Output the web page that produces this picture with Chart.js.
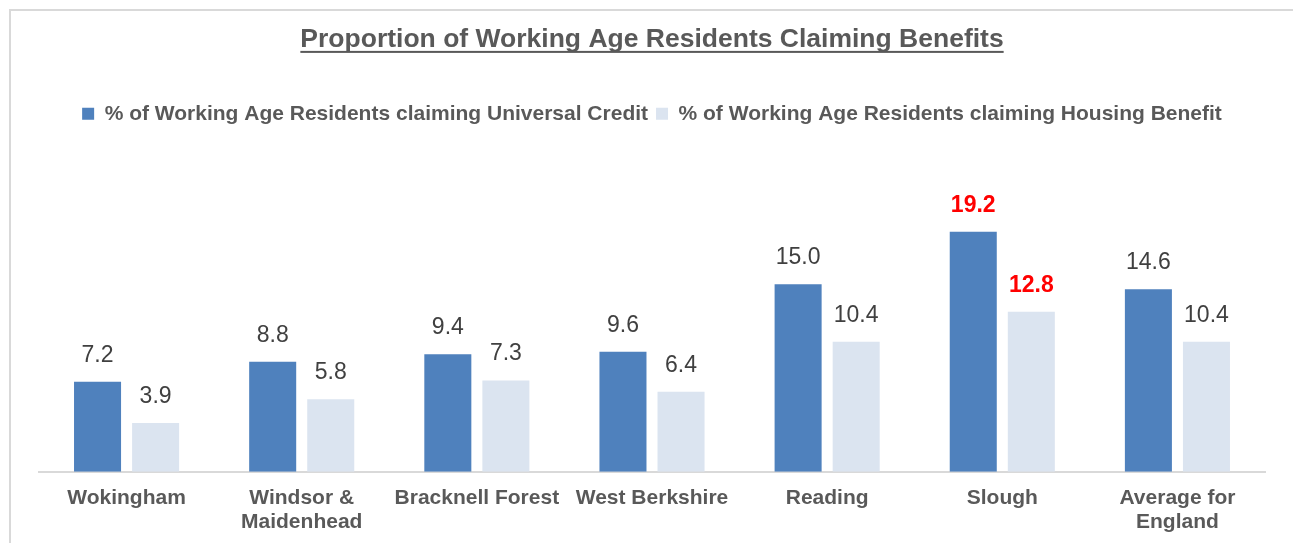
<!DOCTYPE html>
<html>
<head>
<meta charset="utf-8">
<script src="https://cdn.jsdelivr.net/npm/chart.js@4.4.1/dist/chart.umd.min.js"></script>
<style>
  body { margin: 0; background: #fff; overflow: hidden; }
  #wrap { position: relative; width: 1293px; height: 543px; overflow: hidden; }
  #frame { position: absolute; left: 9px; top: 9px; width: 1400px; height: 600px;
           border: 2px solid #d9d9d9; pointer-events: none; }
</style>
</head>
<body>
<div id="wrap">
  <!-- canvas runs a few px past the bottom edge, the frame is cut off there too -->
  <canvas id="chart" width="1293" height="548"></canvas>
  <div id="frame"></div>
</div>
<script>
var areas = [["Wokingham"], ["Windsor &", "Maidenhead"], ["Bracknell Forest"], ["West Berkshire"],
             ["Reading"], ["Slough"], ["Average for", "England"]];
var universalCredit = [7.2, 8.8, 9.4, 9.6, 15.0, 19.2, 14.6];
var housingBenefit = [3.9, 5.8, 7.3, 6.4, 10.4, 12.8, 10.4];
var highlightIndex = 5; // Slough

var FONT = "'Liberation Sans', Arial, sans-serif";
var TITLE_SIZE = 26.5;

// draw value labels above bars (Slough in bold red)
var valueLabels = {
  id: 'valueLabels',
  afterDatasetsDraw: function(chart) {
    var ctx = chart.ctx;
    ctx.save();
    ctx.textAlign = 'center';
    ctx.textBaseline = 'alphabetic';
    chart.data.datasets.forEach(function(ds, i) {
      var meta = chart.getDatasetMeta(i);
      meta.data.forEach(function(bar, j) {
        if (j === highlightIndex) {
          ctx.font = 'bold 23px ' + FONT;
          ctx.fillStyle = '#ff0000';
        } else {
          ctx.font = '23px ' + FONT;
          ctx.fillStyle = '#404040';
        }
        ctx.fillText(ds.data[j].toFixed(1), bar.x, bar.y - 20);
      });
    });
    ctx.restore();
  }
};

// underline under the chart title
var titleUnderline = {
  id: 'titleUnderline',
  afterDraw: function(chart) {
    var tb = chart.titleBlock;
    if (!tb) return;
    var ctx = chart.ctx;
    ctx.save();
    ctx.font = 'bold ' + TITLE_SIZE + 'px ' + FONT;
    var w = ctx.measureText(chart.options.plugins.title.text).width;
    var cx = (tb.left + tb.right) / 2;
    var y = tb.top + tb.options.padding.top + TITLE_SIZE * 1.2 / 2 + 11.5;
    ctx.fillStyle = '#595959';
    ctx.fillRect(cx - w / 2, y, w, 2);
    ctx.restore();
  }
};

var chart = new Chart('chart', {
  type: 'bar',
  data: {
    labels: areas,
    datasets: [
      {
        label: "% of Working Age Residents claiming Universal Credit",
        data: universalCredit,
        backgroundColor: "#4f81bd",
        borderWidth: 0,
        categoryPercentage: 0.663,
        barPercentage: 0.81
      },
      {
        label: "% of Working Age Residents claiming Housing Benefit",
        data: housingBenefit,
        backgroundColor: "#dbe4f0",
        borderWidth: 0,
        categoryPercentage: 0.663,
        barPercentage: 0.81
      }
    ]
  },
  options: {
    responsive: false,
    animation: false,
    layout: { padding: { left: 39, right: 28, top: 10, bottom: 0 } },
    scales: {
      y: { display: false, min: 0, max: 27 },
      x: {
        grid: { display: false, drawTicks: false },
        border: { display: true, color: '#d9d9d9', width: 2 },
        ticks: {
          color: '#595959',
          padding: 14,
          maxRotation: 0,
          autoSkip: false,
          font: { family: FONT, size: 21, weight: 'bold', lineHeight: 1.15 }
        }
      }
    },
    plugins: {
      title: {
        display: true,
        text: 'Proportion of Working Age Residents Claiming Benefits',
        color: '#595959',
        font: { family: FONT, size: TITLE_SIZE, weight: 'bold' },
        padding: { top: 13.5, bottom: 40 }
      },
      legend: {
        display: true,
        labels: {
          color: '#595959',
          boxWidth: 12,
          boxHeight: 12,
          padding: 8,
          font: { family: FONT, size: 21, weight: 'bold' }
        }
      },
      tooltip: { enabled: false }
    }
  },
  plugins: [valueLabels, titleUnderline]
});
</script>
</body>
</html>
